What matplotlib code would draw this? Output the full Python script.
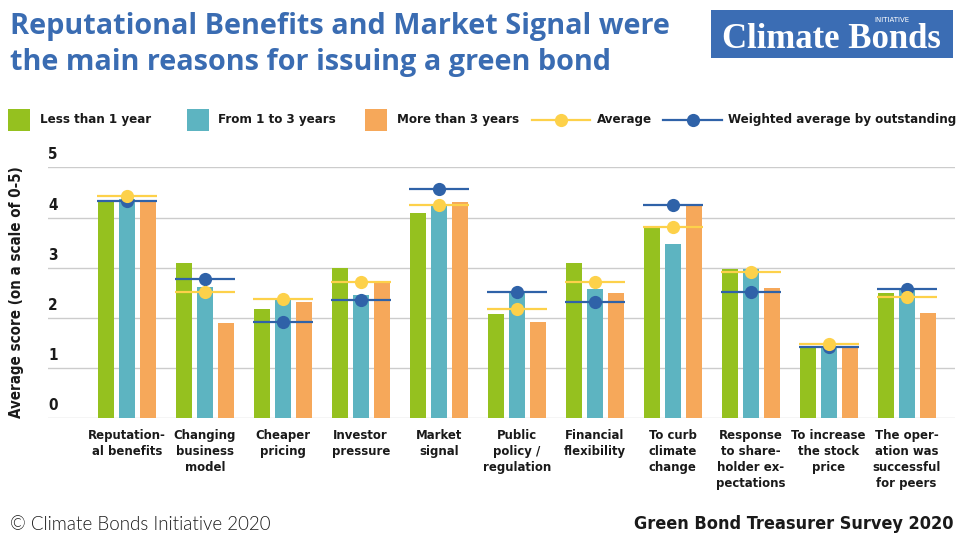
import matplotlib
matplotlib.use('Agg')
import matplotlib.pyplot as plt
from matplotlib import font_manager as fm
from matplotlib.patches import Rectangle
from matplotlib.lines import Line2D
import matplotlib.transforms as mtransforms
import numpy as np

# ---------------- data ----------------
categories = ["Reputation-\nal benefits", "Changing\nbusiness\nmodel", "Cheaper\npricing",
              "Investor\npressure", "Market\nsignal", "Public\npolicy /\nregulation",
              "Financial\nflexibility", "To curb\nclimate\nchange",
              "Response\nto share-\nholder ex-\npectations", "To increase\nthe stock\nprice",
              "The oper-\nation was\nsuccessful\nfor peers"]
less_than_1 = [4.35, 3.09, 2.18, 3.00, 4.09, 2.07, 3.09, 3.80, 2.97, 1.43, 2.50]
from_1_to_3 = [4.37, 2.62, 2.37, 2.46, 4.22, 2.49, 2.58, 3.48, 2.97, 1.43, 2.55]
more_than_3 = [4.32, 1.90, 2.32, 2.72, 4.30, 1.91, 2.50, 4.22, 2.59, 1.43, 2.10]
average = [4.43, 2.52, 2.37, 2.72, 4.24, 2.18, 2.72, 3.81, 2.91, 1.49, 2.42]
weighted = [4.32, 2.77, 1.92, 2.36, 4.57, 2.52, 2.31, 4.24, 2.52, 1.43, 2.58]
series_labels = ["Less than 1 year", "From 1 to 3 years", "More than 3 years",
                 "Average", "Weighted average by outstanding"]
y_ticks = [0, 1, 2, 3, 4, 5]

GREEN = '#95c11f'
TEAL = '#5db4c1'
ORANGE = '#f6a85a'
YELLOW = '#fdd14a'
BLUE = '#2f62a8'
TITLE_BLUE = '#3a6cb2'
DARK = '#1a1a1a'

# ---------------- fonts ----------------
def find_font(cands):
    for name, weight, stretch in cands:
        for f in fm.fontManager.ttflist:
            if f.name == name and (weight is None or f.weight == weight) and \
               (stretch is None or f.stretch == stretch):
                return fm.FontProperties(fname=f.fname)
    return None

cond_bold = find_font([('Liberation Sans Narrow', 700, None),
                       ('DejaVu Sans', 700, 'condensed'),
                       ('Roboto Condensed', 700, None)])
if cond_bold is None:
    cond_bold = fm.FontProperties(family='Roboto', weight='bold')
light = find_font([('Lato', 300, None), ('Open Sans', 300, None), ('Roboto', 300, None)])
if light is None:
    light = fm.FontProperties(family='Lato')

def fp(base, size):
    p = base.copy()
    p.set_size(size)
    return p

W, H = 965, 536
fig = plt.figure(figsize=(W / 100, H / 100), dpi=100)

def px(x, y):
    return x / W, 1 - y / H

# ---------------- axes ----------------
ax_left, ax_right = 48, 955
y0, y5 = 418.3, 167.3
ax = fig.add_axes([ax_left / W, 1 - y0 / H, (ax_right - ax_left) / W, (y0 - y5) / H])
n = len(categories)
x = np.arange(n)
bw = 0.205
off = 0.27
ax.bar(x - off, less_than_1, bw, color=GREEN, zorder=2)
ax.bar(x, from_1_to_3, bw, color=TEAL, zorder=2)
ax.bar(x + off, more_than_3, bw, color=ORANGE, zorder=2)

hw = 0.385
ax.hlines(weighted, x - hw, x + hw, color=BLUE, lw=1.6, zorder=3)
ax.plot(x, weighted, 'o', color=BLUE, ms=9.5, mec='none', zorder=4)
ax.hlines(average, x - hw, x + hw, color=YELLOW, lw=1.6, zorder=5)
ax.plot(x, average, 'o', color=YELLOW, ms=9.5, mec='none', zorder=6)

ax.set_ylim(0, 5)
ax.set_xlim(-1.01, n - 1 + 0.62)
for s in ax.spines.values():
    s.set_visible(False)
ax.set_yticks(y_ticks)
ax.yaxis.grid(True, color='#cccccc', lw=1.0, zorder=0)
ax.set_axisbelow(True)
ax.tick_params(axis='y', length=0, labelleft=False)
ax.tick_params(axis='x', length=0)
ax.set_xticks(x)
ax.set_xticklabels(categories, fontproperties=fp(cond_bold, 9.4), color=DARK,
                   linespacing=1.28)
ax.tick_params(axis='x', pad=8)
ax.set_facecolor('none')

trans = mtransforms.blended_transform_factory(ax.transAxes, ax.transData)
offset = mtransforms.ScaledTranslation(0, 5 / 100, fig.dpi_scale_trans)
for v in y_ticks:
    ax.text(0.0, v, str(v), transform=trans + offset, ha='left', va='bottom',
            fontproperties=fp(cond_bold, 11), color=DARK)

fig.text(*px(17, 292), "Average score (on a scale of 0-5)", rotation=90,
         ha='center', va='center', fontproperties=fp(cond_bold, 10.8), color=DARK)

# ---------------- title ----------------
fig.text(*px(10, 12), "Reputational Benefits and Market Signal were\nthe main reasons for issuing a green bond",
         ha='left', va='top', fontsize=20.8, fontweight='bold', family='Open Sans',
         color=TITLE_BLUE, linespacing=1.3)

# ---------------- logo ----------------
fig.patches.append(Rectangle(px(711, 58), 242 / W, 48 / H, transform=fig.transFigure,
                             facecolor='#3b6db4', edgecolor='none'))
fig.text(*px(831, 39), "Climate Bonds", ha='center', va='center', color='white',
         fontsize=25, fontweight='bold', family='Liberation Serif')
fig.text(*px(892, 20), "INITIATIVE", ha='center', va='center', color='white',
         fontsize=5, family='DejaVu Sans')

# ---------------- legend ----------------
ly = 120
sq = 22
for xs, col, lab, xt in [(8, GREEN, series_labels[0], 40),
                         (187, TEAL, series_labels[1], 218),
                         (365, ORANGE, series_labels[2], 397)]:
    fig.patches.append(Rectangle(px(xs, ly + sq / 2), sq / W, sq / H,
                                 transform=fig.transFigure, facecolor=col, edgecolor='none'))
    fig.text(*px(xt, ly), lab, ha='left', va='center', fontproperties=fp(cond_bold, 9.5),
             color=DARK)
for x1, x2, col, lab, xt in [(532, 590, YELLOW, series_labels[3], 597),
                             (663, 722, BLUE, series_labels[4], 728)]:
    fig.lines.append(Line2D([x1 / W, x2 / W], [1 - ly / H, 1 - ly / H],
                            transform=fig.transFigure, color=col, lw=1.6))
    fig.lines.append(Line2D([(x1 + x2) / 2 / W], [1 - ly / H], transform=fig.transFigure,
                            marker='o', ms=9.5, color=col, mec='none'))
    fig.text(*px(xt, ly), lab, ha='left', va='center', fontproperties=fp(cond_bold, 9.5),
             color=DARK)

# ---------------- footer ----------------
fig.text(*px(10, 524), "© Climate Bonds Initiative 2020", ha='left', va='center',
         fontproperties=fp(light, 13.5), color=DARK)
fig.text(*px(953, 524), "Green Bond Treasurer Survey 2020", ha='right', va='center',
         fontproperties=fp(cond_bold, 13), color=DARK)

fig.savefig('out.png', dpi=100)
